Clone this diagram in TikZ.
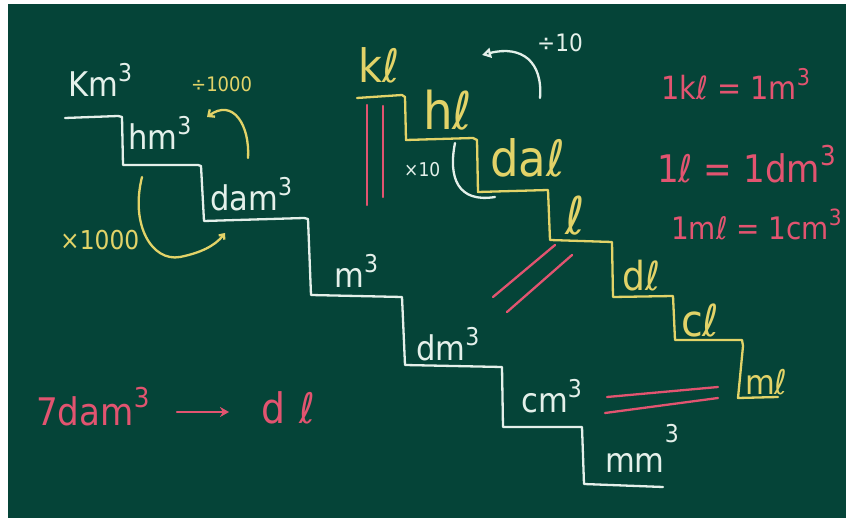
\documentclass[tikz,border=0pt]{standalone}
\usepackage{fontspec}
\setmainfont{DejaVu Sans Condensed}
\usetikzlibrary{arrows.meta}

\definecolor{board}{RGB}{5,68,56}
\definecolor{chalkwhite}{RGB}{228,240,234}
\definecolor{chalkyellow}{RGB}{226,211,104}
\definecolor{chalkred}{RGB}{226,84,112}

% raised exponent 3
\newcommand\cube[1][0.85ex]{\raisebox{#1}{\scalebox{0.72}{3}}}
\newcommand\fsz[1]{\fontsize{#1}{#1}\selectfont}

\tikzset{
  chalk/.style={line width=2.3pt, line cap=round, line join=round},
  wline/.style={chalk, draw=chalkwhite},
  yline/.style={chalk, draw=chalkyellow},
  rline/.style={chalk, draw=chalkred},
  lab/.style={inner sep=0pt, anchor=base west},
  wlab/.style={lab, text=chalkwhite, font=\fsz{#1}},
  wlab/.default=34,
  ylab/.style={lab, text=chalkyellow, font=\fsz{#1}},
  ylab/.default=42,
  rlab/.style={lab, text=chalkred, font=\fsz{#1}},
  rlab/.default=34,
}

\begin{document}
\begin{tikzpicture}[x=1pt, y=-1pt]
  \useasboundingbox (0,0) rectangle (846,518);
  \fill[white] (0,0) rectangle (846,518);
  \fill[board] (8,4) rectangle (846,518);

  % ---------- cubic units staircase ----------
  \draw[wline] (65,118) -- (118,116) -- (122,117) -- (123,165) -- (198,165)
    -- (201,166) -- (204,221) -- (304,218) -- (308,219) -- (311,295)
    -- (402,297) -- (405,365) -- (502,367) -- (503,427) -- (582,427)
    -- (584,484) -- (663,487);

  \node[wlab] (km)  at (68,97)   {Km\cube};
  \node[wlab] (hm)  at (128,150) {hm\cube};
  \node[wlab] (dam) at (210,211) {dam\cube};
  \node[wlab] (m)   at (334,288) {m\cube};
  \node[wlab] (dm)  at (416,361) {dm\cube};
  \node[wlab] (cm)  at (521,413) {cm\cube};
  \node[wlab] (mm)  at (605,472) {mm\cube[1.6ex]};

  % conversion arrows between cubic units
  \node[ylab=20] (div1000) at (191,92)  {÷1000};
  \node[ylab=26] (mul1000) at (60,250)  {×1000};
  \coordinate (up0) at (248,158);
  \coordinate (up1) at (207,117);
  \draw[yline, -{Straight Barb[length=5pt, width=9pt]}]
    (up0) .. controls (250,125) and (233,98) .. (up1);
  \coordinate (dn0) at (142,177);
  \coordinate (dn1) at (225,233);
  \draw[yline, -{Straight Barb[length=4pt, width=7pt]}]
    (dn0) .. controls (130,225) and (152,262) .. (180,257)
    .. controls (200,253) and (215,246) .. (dn1);

  % ---------- capacity units staircase ----------
  \draw[yline] (357,98) -- (402,95) -- (405,97) -- (406,140) -- (473,138)
    -- (477,140) -- (478,192) -- (548,190) -- (550,240) -- (612,242)
    -- (613,297) -- (673,296) -- (675,340) -- (742,340) -- (743,346)
    -- (738,398) -- (778,397);

  \node[ylab=46] (kl)  at (358,83)  {kℓ};
  \node[ylab=52] (hl)  at (423,130) {hℓ};
  \node[ylab=50] (dal) at (490,177) {daℓ};
  \node[ylab=52] (l)   at (565,235) {ℓ};
  \node[ylab=40] (dl)  at (622,291) {dℓ};
  \node[ylab=44] (cl)  at (681,337) {cℓ};
  \node[ylab=34] (ml)  at (745,395) {mℓ};

  % conversion arrows between capacity units
  \node[wlab=24] (div10) at (537,52)  {÷10};
  \node[wlab=19] (mul10) at (404,177) {×10};
  \coordinate (cu0) at (540,98);
  \coordinate (cu1) at (482,55);
  \draw[wline, -{Triangle[open, length=9pt, width=10pt]}]
    (cu0) .. controls (543,62) and (522,45) .. (cu1);
  \coordinate (cd0) at (455,143);
  \coordinate (cd1) at (495,197);
  \draw[wline] (cd0) .. controls (448,178) and (458,203) .. (cd1);

  % ---------- equal signs between the two staircases ----------
  \draw[rline] (367,105) -- (367,205);
  \draw[rline] (383,106) -- (383,197);
  \draw[rline] (493,297) -- (555,245);
  \draw[rline] (507,312) -- (572,255);
  \draw[rline] (607,397) -- (718,387);
  \draw[rline] (605,413) -- (718,398);

  % ---------- equivalences ----------
  \node[rlab=32] (eq1) at (661,100) {1kℓ = 1m\cube};
  \node[rlab=38] (eq2) at (657,183) {1ℓ = 1dm\cube};
  \node[rlab=31] (eq3) at (671,240) {1mℓ = 1cm\cube};

  % ---------- exercise ----------
  \node[rlab=38] (task) at (36,425) {7dam\cube};
  \node[rlab=42] (goal) at (261,424) {d\hspace{14pt}ℓ};
  \coordinate (ar0) at (177,412);
  \coordinate (ar1) at (229,412);
  \draw[rline, -{Stealth[length=9pt, width=10pt]}] (ar0) -- (ar1);
\end{tikzpicture}
\end{document}
